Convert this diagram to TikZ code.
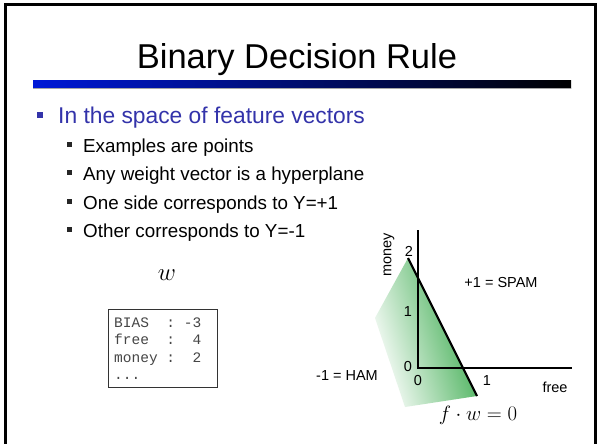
\documentclass[tikz,border=0pt]{standalone}
\usepackage{fontspec}
\setmainfont{Liberation Sans}
\newfontfamily\boxfont{Liberation Mono}
\usetikzlibrary{shadings}
\definecolor{lvlone}{RGB}{51,51,170}
\definecolor{barblue}{RGB}{0,25,215}
\definecolor{hamgreen}{RGB}{45,165,65}
\definecolor{boxtext}{RGB}{70,70,70}
\tikzset{
  titlefont/.style={font=\fontsize{34.5}{40}\selectfont, inner sep=0pt},
  lvlonetext/.style={font=\fontsize{22.8}{26}\selectfont, text=lvlone, inner sep=0pt, anchor=base west},
  lvltwotext/.style={font=\fontsize{18.8}{22}\selectfont, inner sep=0pt, anchor=base west},
  bulone/.style={fill=lvlone, inner sep=0pt, minimum size=6pt, rectangle},
  bultwo/.style={fill=black!85, inner sep=0pt, minimum size=5pt, rectangle},
  monotext/.style={font=\boxfont\fontsize{14.5}{17}\selectfont, text=boxtext, inner sep=0pt, anchor=base west},
  plotlabel/.style={font=\fontsize{14.5}{17}\selectfont, inner sep=0pt},
  axisline/.style={line width=2.4pt},
}
\begin{document}
\begin{tikzpicture}[x=1pt,y=-1pt]
\useasboundingbox (0,0) rectangle (597,444);
\clip (0,0) rectangle (597,444);
\fill[white] (0,0) rectangle (597,444);
% frame
\draw[line width=3pt] (5,5) rectangle (595.5,470);
% title
\node[titlefont, anchor=base] (title) at (297,68) {Binary Decision Rule};
\shade[left color=barblue, right color=black] (33,81) rectangle (571,88);
\draw[black!35, line width=0.8pt] (33,88.5) -- (571,88.5);
% bullets
\node[bulone] (b0) at (39.5,115) {};
\node[lvlonetext] (t0) at (58,123) {In the space of feature vectors};
\node[bultwo] (b1) at (69.5,144.5) {};
\node[lvltwotext] (t1) at (83,152) {Examples are points};
\node[bultwo] (b2) at (69.5,172.5) {};
\node[lvltwotext] (t2) at (83,180) {Any weight vector is a hyperplane};
\node[bultwo] (b3) at (69.5,201.5) {};
\node[lvltwotext] (t3) at (83,209) {One side corresponds to Y=+1};
\node[bultwo] (b4) at (69.5,229.5) {};
\node[lvltwotext] (t4) at (83,237) {Other corresponds to Y=-1};
% weight vector
\node[inner sep=0pt, font=\fontsize{30}{32}\selectfont] (w) at (167,275) {$w$};
\node[draw=black!80, line width=0.9pt, minimum width=109pt, minimum height=78pt, anchor=north west, inner sep=0pt] (wbox) at (108,309) {};
\node[monotext] (l1) at (114,327) {BIAS~~:~-3};
\node[monotext] (l2) at (114,344.5) {free~~:~~4};
\node[monotext] (l3) at (114,362) {money~:~~2};
\node[monotext] (l4) at (114,379.5) {...};
% plot
\coordinate (O) at (418,368);
\coordinate (ytop) at (418,230);
\coordinate (xend) at (572,368);
\coordinate (Lt) at (408,258);
\coordinate (Lb) at (477,396);
\coordinate (Gl) at (375,318);
\coordinate (Gb) at (405,407);
\shade[left color=white, middle color=hamgreen!40!white, right color=hamgreen, shading angle=107] (Lt) -- (Gl) -- (Gb) -- (Lb) -- cycle;
\draw[axisline] (ytop) -- (O) -- (xend);
\draw[line width=2.2pt] (Lt) -- (Lb);
\node[plotlabel, rotate=90] (money) at (389,255) {money};
\node[plotlabel] (y2) at (409,251) {2};
\node[plotlabel] (y1) at (408,312) {1};
\node[plotlabel] (y0) at (408,367) {0};
\node[plotlabel] (x0) at (418,381) {0};
\node[plotlabel] (x1) at (487,381) {1};
\node[plotlabel] (free) at (555,387) {free};
\node[plotlabel] (spam) at (501,283) {+1 = SPAM};
\node[plotlabel] (ham) at (347,376) {-1 = HAM};
\node[inner sep=0pt, font=\fontsize{20}{24}\selectfont] (eq) at (478,415) {$f\cdot w = 0$};
\end{tikzpicture}
\end{document}
